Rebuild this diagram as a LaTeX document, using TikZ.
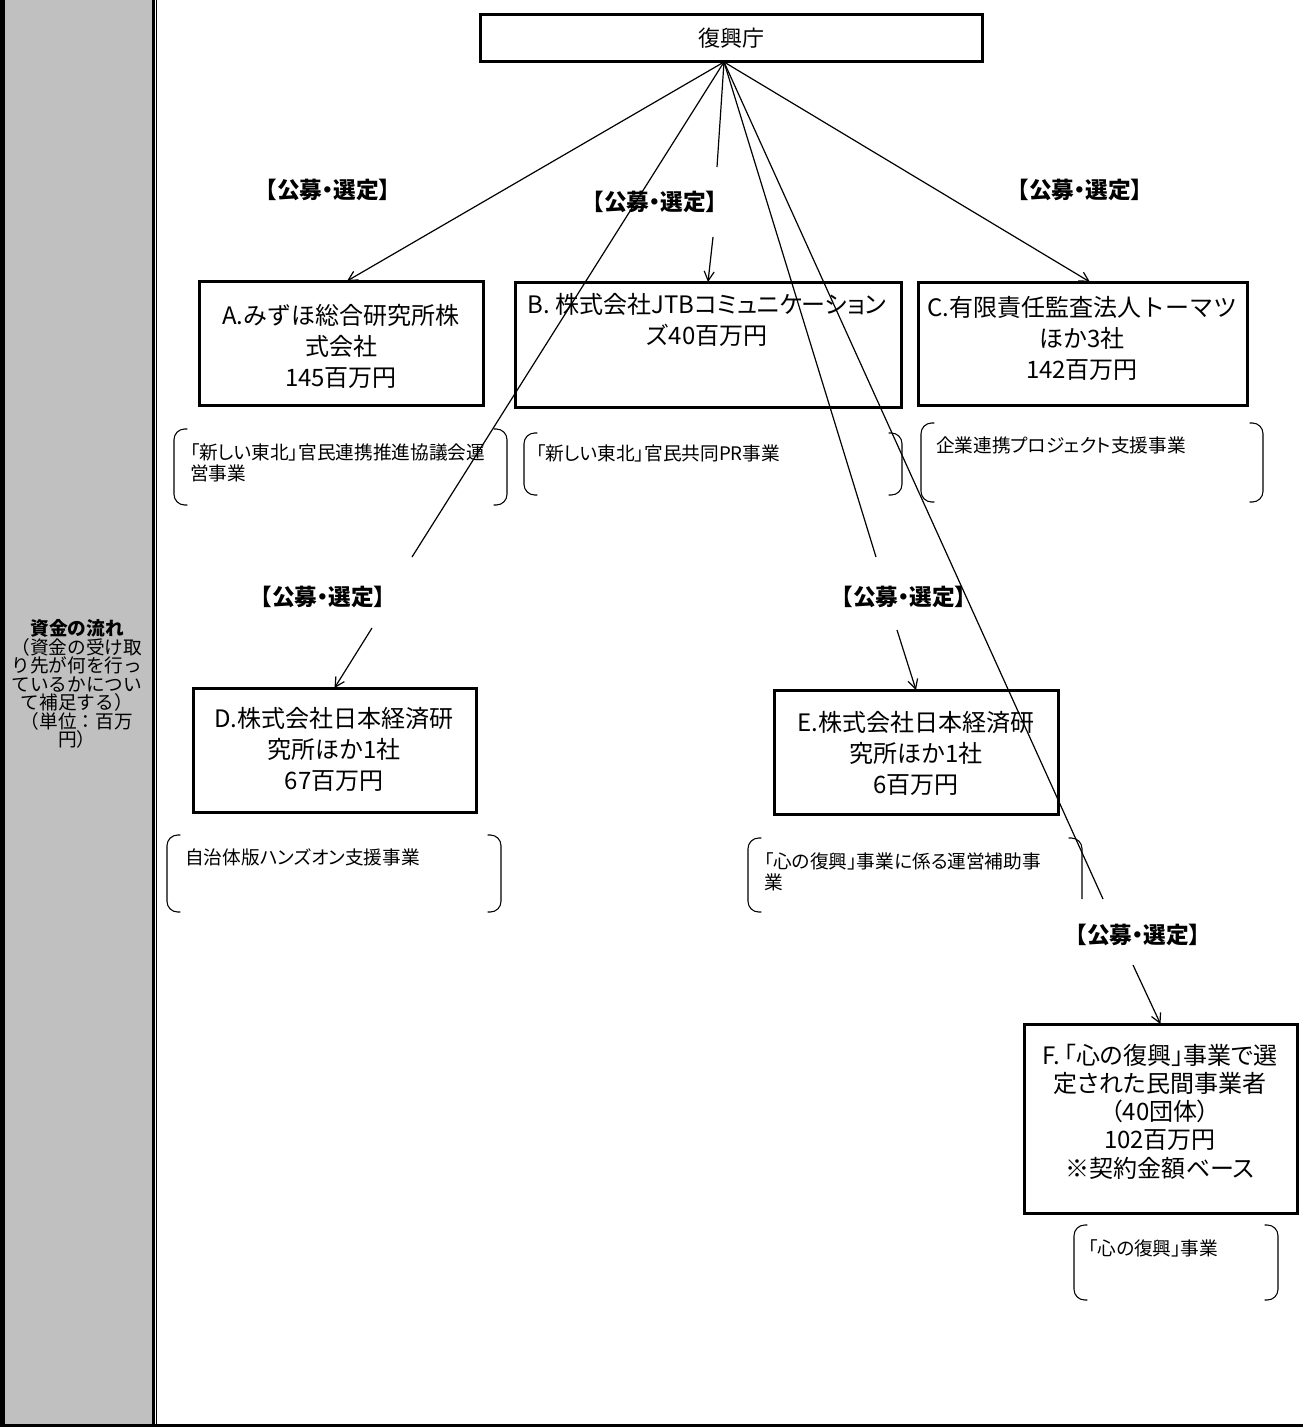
\documentclass[tikz,border=0pt]{standalone}
\usepackage{fontspec}
\setmainfont{Noto Sans CJK JP}
\newfontfamily\pfont[RawFeature=+palt]{Noto Sans CJK JP}
\usetikzlibrary{arrows.meta}
\newcommand\pxu{0.75pt}
\definecolor{panelgray}{HTML}{C0C0C0}
\newcommand\bkpair[1]{%
  \draw[brk] ([xshift=10pt]#1.north west) -- (#1.north west) -- (#1.south west) -- ([xshift=10pt]#1.south west);
  \draw[brk] ([xshift=-10pt]#1.north east) -- (#1.north east) -- (#1.south east) -- ([xshift=-10pt]#1.south east);}
\tikzset{
  box/.style={draw, line width=2.25pt, rectangle, inner sep=0pt, outer sep=0pt},
  boxtext/.style={align=center, font=\fontsize{18pt}{23.25pt}\selectfont, inner sep=0pt},
  lbl/.style={font=\pfont\fontsize{17pt}{20pt}\selectfont\bfseries, inner sep=0pt},
  anntext/.style={align=left, font=\pfont\fontsize{14pt}{15.75pt}\selectfont, inner sep=0pt, anchor=west},
  annarea/.style={rectangle, inner sep=0pt, outer sep=0pt},
  brk/.style={line width=0.8pt, rounded corners=8pt},
  conn/.style={line width=0.9pt},
  arr/.style={conn, -{Straight Barb[length=7pt,width=7.5pt]}},
}
\begin{document}
\begin{tikzpicture}[x=0.75pt,y=-0.75pt]
\useasboundingbox (0,0) rectangle (1303,1427);
% left panel
\fill[panelgray] (0,0) rectangle (153,1424);
\draw[line width=3.75pt] (2.5,0) -- (2.5,1425);
\draw[line width=1.9pt] (153.3,0) -- (153.3,1424);
\draw[line width=1pt] (156.6,0) -- (156.6,1424);
\draw[line width=2.4pt] (0,1425.3) -- (1303,1425.3);
\node[align=center, font=\fontsize{14pt}{13.9pt}\selectfont, inner sep=0pt] (side) at (77,684)
  {{\bfseries 資金の流れ}\\（資金の受け取\\り先が何を行っ\\ているかについ\\て補足する）\\（単位：百万\\円）};

% top box
\node[box, minimum width={502*\pxu}, minimum height={47*\pxu}, font=\fontsize{16.5pt}{18pt}\selectfont] (top) at (731,38.5) {復興庁};
\coordinate (src) at ([xshift=-5.25pt]top.south);

% boxes
\node[box, minimum width={284*\pxu}, minimum height={124*\pxu}] (A) at (341,343) {};
\node[boxtext] (At) at (341,346) {A.みずほ総合研究所株\\式会社\\145百万円};
\node[box, minimum width={386*\pxu}, minimum height={125*\pxu}] (B) at (708,344.5) {};
\node[boxtext, font=\pfont\fontsize{18pt}{23.25pt}\selectfont] (Bt) at (707,320) {B. 株式会社JTBコミュニケーション\\ズ40百万円};
\node[box, minimum width={329*\pxu}, minimum height={123*\pxu}] (C) at (1082.5,343.5) {};
\node[boxtext] (Ct) at (1082,338) {C.有限責任監査法人トーマツ\\ほか3社\\142百万円};
\node[box, minimum width={283*\pxu}, minimum height={124*\pxu}] (D) at (334.5,750) {};
\node[boxtext] (Dt) at (334,749) {D.株式会社日本経済研\\究所ほか1社\\67百万円};
\node[box, minimum width={284*\pxu}, minimum height={124*\pxu}] (E) at (916,752) {};
\node[boxtext] (Et) at (916,753) {E.株式会社日本経済研\\究所ほか1社\\6百万円};
\node[box, minimum width={273*\pxu}, minimum height={189*\pxu}] (F) at (1160.5,1118.5) {};
\node[boxtext, font=\pfont\fontsize{18pt}{21.2pt}\selectfont] (Ft) at (1160,1111.5) {F.\kern3pt「心の復興」事業で選\\定された民間事業者\\（40団体）\\102百万円\\※契約金額ベース};

% labels
\node[lbl] (l1) at (328,190) {【公募・選定】};
\node[lbl] (l2) at (655,202) {【公募・選定】};
\node[lbl] (l3) at (1080,190) {【公募・選定】};
\node[lbl] (l4) at (323,597) {【公募・選定】};
\node[lbl] (l5) at (904,597) {【公募・選定】};
\node[lbl] (l6) at (1138,935) {【公募・選定】};

% annotation brackets
\node[annarea, minimum width={333*\pxu}, minimum height={76*\pxu}] (Aa) at (340.5,467) {};
\node[annarea, minimum width={378*\pxu}, minimum height={62*\pxu}] (Ba) at (713,464) {};
\node[annarea, minimum width={342*\pxu}, minimum height={79*\pxu}] (Ca) at (1092,462.5) {};
\node[annarea, minimum width={334*\pxu}, minimum height={77*\pxu}] (Da) at (334,873.5) {};
\node[annarea, minimum width={334*\pxu}, minimum height={74*\pxu}] (Ea) at (915,875) {};
\node[annarea, minimum width={204*\pxu}, minimum height={75*\pxu}] (Fa) at (1176,1262.5) {};
\bkpair{Aa}
\bkpair{Ba}
\bkpair{Ca}
\bkpair{Da}
\bkpair{Fa}
\draw[brk] ([xshift=10pt]Ea.north west) -- (Ea.north west) -- (Ea.south west) -- ([xshift=10pt]Ea.south west);
\coordinate (ebot) at (1082,899);
\draw[brk] ([xshift=-10pt]Ea.north east) -- (Ea.north east) -- (ebot);

\node[anntext] (Aat) at (190,462.5) {「新しい東北」官民連携推進協議会運\\営事業};
\node[anntext] (Bat) at (536,453) {「新しい東北」官民共同PR事業};
\node[anntext] (Cat) at (936,445) {企業連携プロジェクト支援事業};
\node[anntext] (Dat) at (185,857) {自治体版ハンズオン支援事業};
\node[anntext] (Eat) at (764,871.5) {「心の復興」事業に係る運営補助事\\業};
\node[anntext] (Fat) at (1088,1248) {「心の復興」事業};

% connectors
\coordinate (b1) at (717,167);
\coordinate (b2) at (713,237);
\coordinate (d1) at (412,557);
\coordinate (d2) at (372,628);
\coordinate (e1) at (876,557);
\coordinate (e2) at (897,630);
\coordinate (f1) at (1103,899);
\coordinate (f2) at (1133,965);
\draw[arr] (src) -- ([xshift=4.5pt]A.north);
\draw[conn] (src) -- (b1);
\draw[arr] (b2) -- (B.north);
\draw[arr] (src) -- ([xshift=5.6pt]C.north);
\draw[conn] (src) -- (d1);
\draw[arr] (d2) -- (D.north);
\draw[conn] (src) -- (e1);
\draw[arr] (e2) -- (E.north);
\draw[conn] (src) -- (f1);
\draw[arr] (f2) -- (F.north);
\end{tikzpicture}
\end{document}
